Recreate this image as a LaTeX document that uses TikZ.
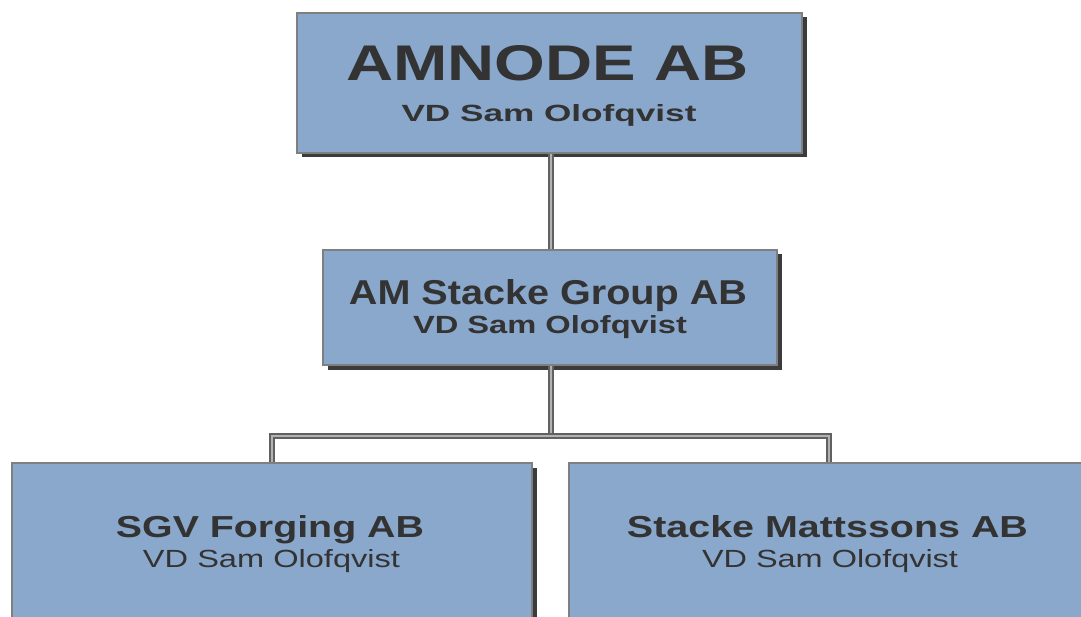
\documentclass[tikz,border=0pt]{standalone}
\usepackage{fontspec}
\setmainfont{Liberation Sans}
\usetikzlibrary{shadows}
\definecolor{boxfill}{HTML}{8AA8CC}
\definecolor{txt}{HTML}{333333}
\definecolor{edge}{HTML}{7F7F7F}
\newcommand\fitt[3]{\resizebox{#1pt}{#2pt}{#3}}
\tikzset{
  orgbox/.style={draw=edge, line width=1.5pt, fill=boxfill, inner sep=0pt,
    drop shadow={shadow xshift=4.5pt, shadow yshift=-4.5pt, fill=black!85, opacity=0.9}},
  lbl/.style={anchor=base, inner sep=0pt, text=txt},
  link/.style={draw=black!62, double=black!30, line width=1.5pt, double distance=2.5pt}
}
\begin{document}
\begin{tikzpicture}[x=1pt,y=-1pt]
\useasboundingbox (0,0) rectangle (1081,617);
\clip (0,0) rectangle (1081,617);
% boxes
\node[orgbox, minimum width=505pt, minimum height=140pt] (top) at (549.5,83) {};
\node[orgbox, minimum width=454pt, minimum height=115pt] (mid) at (550,307.5) {};
\node[orgbox, minimum width=520pt, minimum height=200pt] (bl) at (272,563) {};
\node[orgbox, minimum width=520pt, minimum height=200pt] (br) at (829,563) {};
% texts
\node[lbl] (top1) at (547.5,81) {\fitt{402}{35}{\bfseries AMNODE AB}};
\node[lbl] (top2) at (549,122) {\fitt{295}{17}{\bfseries VD Sam Olofqvist}};
\node[lbl] (mid1) at (548,305) {\fitt{398}{25}{\bfseries AM Stacke Group AB}};
\node[lbl] (mid2) at (550,334) {\fitt{274}{18}{\bfseries VD Sam Olofqvist}};
\node[lbl] (bl1) at (270,537) {\fitt{308}{22}{\bfseries SGV Forging AB}};
\node[lbl] (bl2) at (271.5,567) {\fitt{257}{18}{VD Sam Olofqvist}};
\node[lbl] (br1) at (827.5,537) {\fitt{401}{22}{\bfseries Stacke Mattssons AB}};
\node[lbl] (br2) at (830,567) {\fitt{256}{18}{VD Sam Olofqvist}};
% connectors
\coordinate (j) at (551,436);
\draw[link] (top.south -| j) -- (mid.north -| j);
\draw[link] (mid.south -| j) -- (j);
\draw[link] (bl.north) |- (j) -| (br.north);
\end{tikzpicture}
\end{document}
